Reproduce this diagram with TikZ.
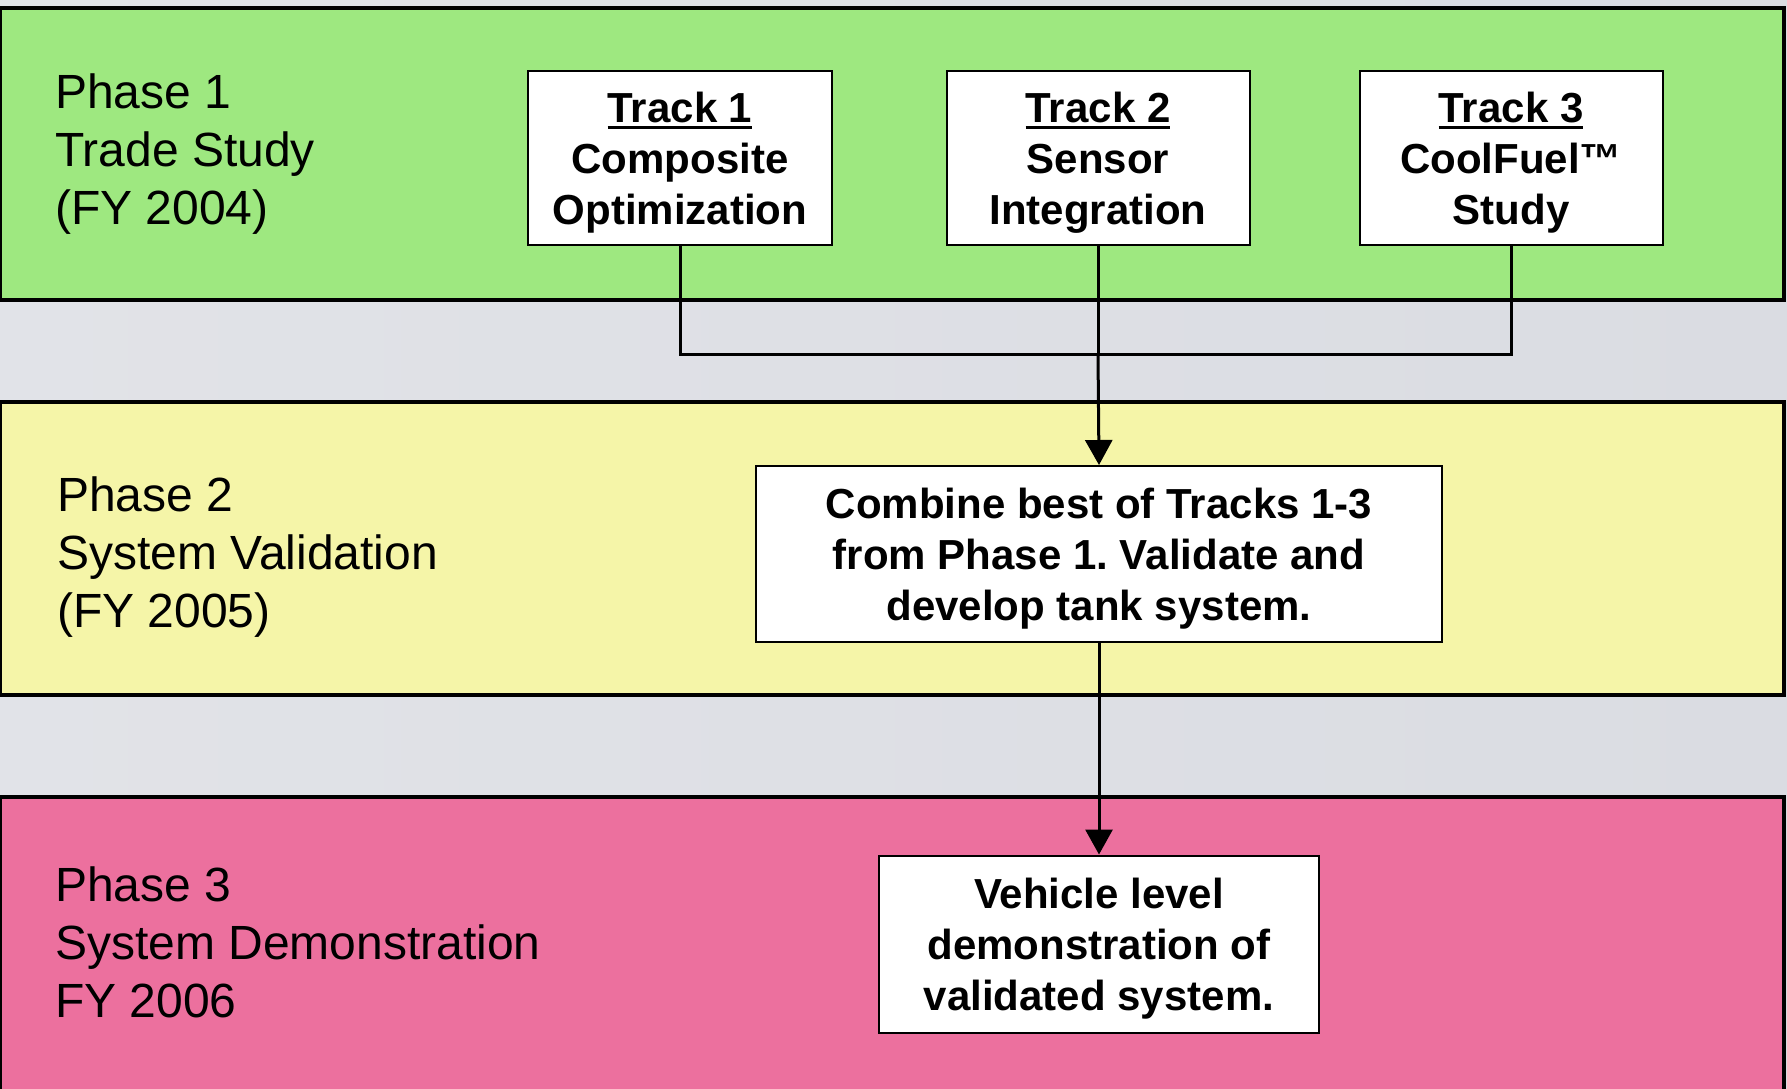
\documentclass[tikz,border=0pt]{standalone}
\usepackage{fontspec}
\setmainfont{Liberation Sans}
\frenchspacing
\usetikzlibrary{arrows.meta}
\definecolor{bggray}{RGB}{218,220,226}
\definecolor{bandgreen}{RGB}{158,232,128}
\definecolor{bandyellow}{RGB}{245,245,168}
\definecolor{bandpink}{RGB}{236,112,158}
\newcommand\ulword[1]{\setbox0\hbox{#1}\rlap{\rule[-6pt]{\wd0}{3pt}}\box0}
\tikzset{
  band/.style={draw=black, line width=4pt},
  phaselabel/.style={anchor=west, align=left, inner sep=0pt, font=\fontsize{48pt}{58pt}\selectfont},
  boxnode/.style={draw=black, line width=2pt, fill=white, inner sep=0pt},
  boxtext/.style={align=center, inner sep=0pt, yshift=-5pt,
    font=\fontsize{42pt}{51pt}\selectfont\bfseries},
  conn/.style={line width=3pt, draw=black},
  arr/.style={conn, -{Triangle[length=25pt,width=27pt]}},
}
\begin{document}
\begin{tikzpicture}[x=1pt,y=-1pt]
\useasboundingbox (0,0) rectangle (1787,1088);
\shade[left color=bggray!80!white, right color=bggray] (0,0) rectangle (1787,1088);
% bands
\draw[band, fill=bandgreen] (0,8) rectangle (1784,300);
\draw[band, fill=bandyellow] (0,402) rectangle (1784,695);
\draw[band, fill=bandpink] (0,797) rectangle (1784,1092);
% phase labels
\node[phaselabel] (ph1) at (55,154) {Phase 1\\Trade Study\\(FY 2004)};
\node[phaselabel] (ph2) at (57,557) {Phase 2\\System Validation\\(FY 2005)};
\node[phaselabel] (ph3) at (55,942) {Phase 3\\System Demonstration\\FY 2006};
% track boxes
\node[boxnode, minimum width=304pt, minimum height=174pt] (t1) at (680,158) {};
\node[boxtext] (t1txt) at (t1.center) {\ulword{Track 1}\\Composite\\Optimization};
\node[boxnode, minimum width=303pt, minimum height=174pt] (t2) at (1098,158) {};
\node[boxtext] (t2txt) at (t2.center) {\ulword{Track 2}\\Sensor\\Integration};
\node[boxnode, minimum width=303pt, minimum height=174pt] (t3) at (1511,158) {};
\node[boxtext] (t3txt) at (t3.center) {\ulword{Track 3}\\CoolFuel™\\Study};
% phase 2 and 3 boxes
\node[boxnode, minimum width=686pt, minimum height=176pt] (p2) at (1099,554) {};
\node[boxtext] (p2txt) at (p2.center) {Combine best of Tracks 1-3\\from Phase 1. Validate and\\develop tank system.};
\node[boxnode, minimum width=440pt, minimum height=177pt] (p3) at (1099,944) {};
\node[boxtext] (p3txt) at (p3.center) {Vehicle level\\demonstration of\\validated system.};
% connectors
\coordinate (j) at (t2.south |- 0,354);
\draw[conn] (t1.south) |- (j);
\draw[conn] (t3.south) |- (j);
\draw[conn] (t2.south) -- (j);
\draw[arr] (j) -- (p2.north);
\draw[arr] (p2.south) -- (p3.north);
\end{tikzpicture}
\end{document}
